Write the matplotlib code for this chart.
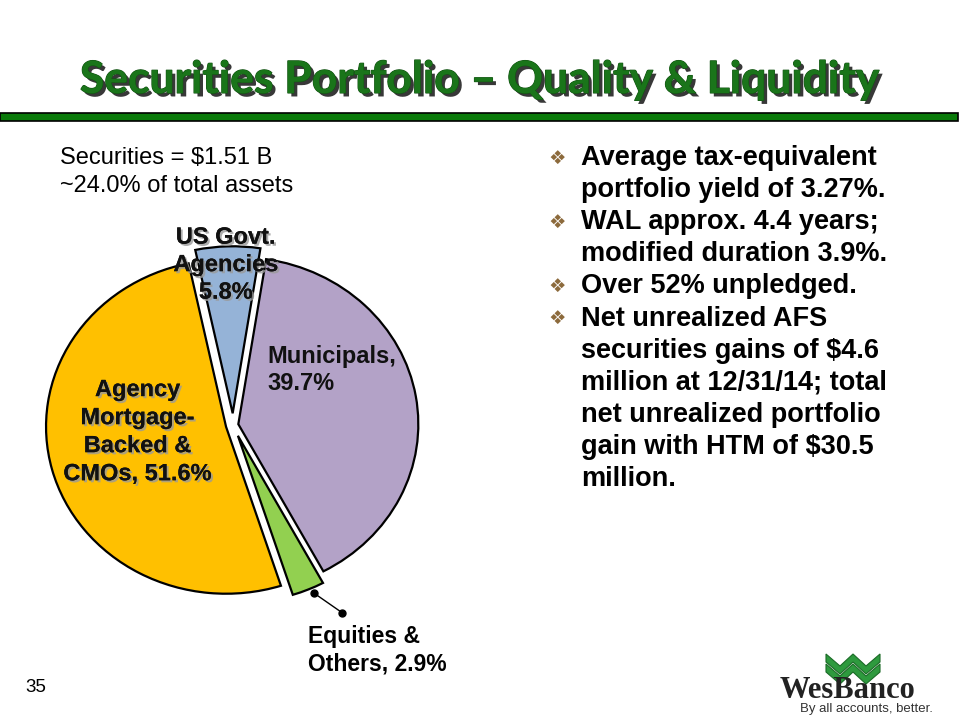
import numpy as np
import matplotlib
matplotlib.use("Agg")
import matplotlib.pyplot as plt
import matplotlib.patheffects as pe
from matplotlib.patches import Polygon, Rectangle

# datos del gráfico
categorias = ["US Govt. Agencies", "Municipals", "Equities & Others",
              "Agency Mortgage-Backed & CMOs"]
porcentajes = [5.8, 39.7, 2.9, 51.6]
colores = ["#95B3D7", "#B3A2C7", "#92D050", "#FFC000"]
etiquetas = ["US Govt.\nAgencies\n5.8%", "Municipals,\n39.7%",
             "Equities &\nOthers, 2.9%", "Agency\nMortgage-\nBacked &\nCMOs, 51.6%"]
explosion = [0.07, 0.03, 0.07, 0.04]

viñetas = [
    "Average tax-equivalent\nportfolio yield of 3.27%.",
    "WAL approx. 4.4 years;\nmodified duration 3.9%.",
    "Over 52% unpledged.",
    "Net unrealized AFS\nsecurities gains of $4.6\nmillion at 12/31/14; total\nnet unrealized portfolio\ngain with HTM of $30.5\nmillion.",
]

W, H = 960, 720
fig = plt.figure(figsize=(W / 100, H / 100), dpi=100)
fig.patch.set_facecolor("white")

def px(x, y):
    # pixeles (desde arriba) a fracción de figura
    return x / W, 1 - y / H

sombra = [pe.withSimplePatchShadow(offset=(1.5, -1.5), shadow_rgbFace="#9a9a9a", alpha=0.8),
          pe.Normal()]

# título
fig.text(*px(480, 80), "Securities Portfolio – Quality & Liquidity", ha="center", va="center",
         fontsize=32, fontweight="bold", family="Lato", color="#1A751A",
         path_effects=[pe.withSimplePatchShadow(offset=(2.5, -2.5), shadow_rgbFace="#222222", alpha=0.9),
                       pe.Stroke(linewidth=0.8, foreground="#145214"), pe.Normal()])
fig.patches.append(Rectangle(px(0, 121), 958 / W, 8 / H, transform=fig.transFigure,
                             facecolor="#0A7A0A", edgecolor="black", linewidth=1.2))

# texto superior izquierdo
fig.text(*px(60, 172), "Securities = $1.51 B\n~24.0% of total assets", ha="left", va="center",
         fontsize=17, family="Liberation Sans", color="black", linespacing=1.3)

# pastel
rx, ry, L = 180, 167, 1.3
cx, cy = 233, 425
ax = fig.add_axes([(cx - rx * L) / W, (H - cy - ry * L) / H, 2 * rx * L / W, 2 * ry * L / H])
cuñas, _ = ax.pie(porcentajes, colors=colores, explode=explosion, startangle=102,
                  counterclock=False,
                  wedgeprops=dict(edgecolor="black", linewidth=1.6))
ax.set_aspect("auto")
ax.set_xlim(-L, L)
ax.set_ylim(-L, L)
ax.axis("off")
for c in cuñas:
    c.set_clip_on(False)

# etiquetas del pastel
ax.text(-0.04, 0.96, etiquetas[0], ha="center", va="center", fontsize=17, fontweight="bold",
        family="Liberation Sans", linespacing=1.25, path_effects=sombra, color="#111111")
ax.text(0.19, 0.33, etiquetas[1], ha="left", va="center", fontsize=17, fontweight="bold",
        family="Liberation Sans", linespacing=1.25, color="#111111")
ax.text(-0.53, -0.04, etiquetas[3], ha="center", va="center", fontsize=17, fontweight="bold",
        family="Liberation Sans", linespacing=1.28, path_effects=sombra, color="#111111")

# línea guía de Equities
ang = np.radians((cuñas[2].theta1 + cuñas[2].theta2) / 2)
ex = explosion[2]
p1 = ((1 + ex) * np.cos(ang) + 0.03, (1 + ex) * np.sin(ang) - 0.02)
p2 = (p1[0] + 0.16, p1[1] - 0.12)
ax.plot([p1[0], p2[0]], [p1[1], p2[1]], color="black", lw=1, marker="o", ms=5, clip_on=False)
ax.text(p1[0] - 0.03, p2[1] - 0.07, etiquetas[2], ha="left", va="top", fontsize=16.5,
        fontweight="bold", family="Liberation Sans", linespacing=1.3)

# viñetas
linea = 0
for t in viñetas:
    fig.text(*px(557, 158 + 32.1 * linea), "❖", ha="center", va="center", fontsize=14,
             color="#8C6A3C", family="DejaVu Sans")
    for renglon in t.split("\n"):
        fig.text(*px(581, 158 + 32.1 * linea), renglon, ha="left", va="center", fontsize=19.5,
                 fontweight="bold", family="Liberation Sans")
        linea += 1

# número de página
fig.text(*px(36, 688), "35", ha="center", va="center", fontsize=13.5, family="Liberation Sans")

# logotipo
for dy in (0, 10):
    pts = [(826, 654 + dy), (840, 666 + dy), (853, 654 + dy), (866, 666 + dy), (880, 654 + dy),
           (880, 662 + dy), (866, 674 + dy), (853, 662 + dy), (840, 674 + dy), (826, 662 + dy)]
    fig.patches.append(Polygon([px(x, y) for x, y in pts], closed=True, transform=fig.transFigure,
                               facecolor="#2E9A3E", edgecolor="#1B6B27", linewidth=0.8))
fig.text(*px(847, 690), "WesBanco", ha="center", va="center", fontsize=22, fontweight="bold",
         family="Liberation Serif", color="#222222")
fig.text(*px(866, 709), "By all accounts, better.", ha="center", va="center", fontsize=9.5,
         family="Liberation Sans", color="#333333")

fig.savefig("out.png", dpi=100)
